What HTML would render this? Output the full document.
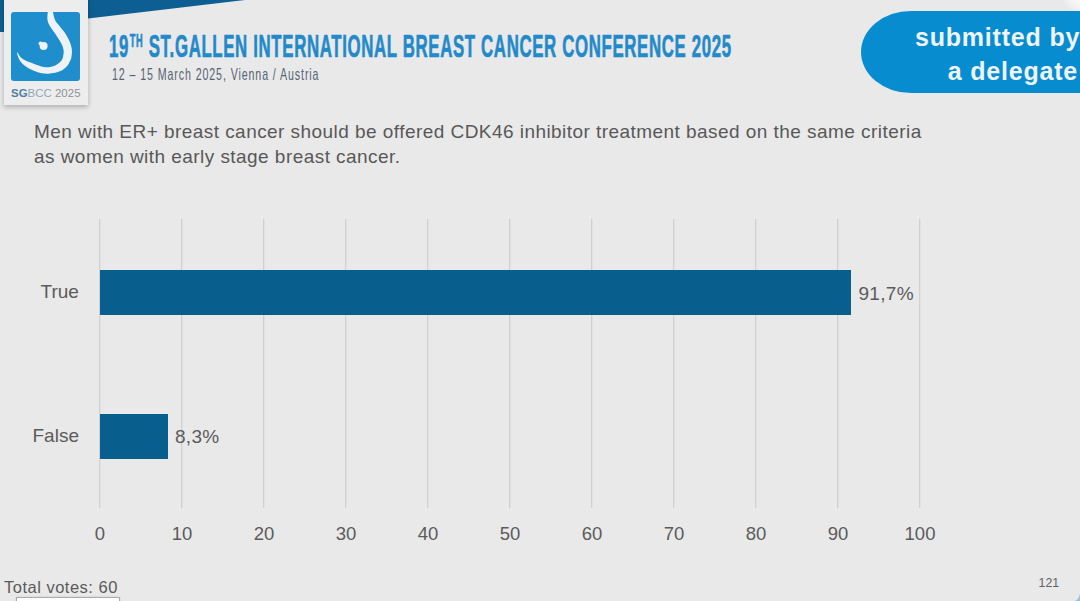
<!DOCTYPE html>
<html><head><meta charset="utf-8">
<style>
html,body{margin:0;padding:0;}
body{width:1080px;height:601px;overflow:hidden;position:relative;background:#e9e9e9;font-family:"Liberation Sans",sans-serif;}
.abs{position:absolute;}
.t{position:absolute;white-space:nowrap;line-height:1;}
.grid{position:absolute;top:219px;height:289px;width:1px;background:#d1d0d4;box-shadow:1px 0 0 #e1e0e3;}
.bar{position:absolute;background:#085e8c;}
.lbl{position:absolute;white-space:nowrap;line-height:1;color:#5b5b5b;font-size:19px;}
.ax{position:absolute;top:525px;width:60px;text-align:center;white-space:nowrap;line-height:1;color:#5b5b5b;font-size:18.5px;}
</style></head>
<body>
<!-- top dark band -->
<svg class="abs" style="left:0;top:0" width="1080" height="120">
  <polygon points="0,0 245,0 88,18.5 88,0" fill="#0d5f93"/>
  <rect x="0" y="0" width="4" height="32" fill="#0d5f93"/>
</svg>
<!-- logo box -->
<div class="abs" style="left:3.5px;top:-4px;width:84.5px;height:109px;background:#ededed;box-shadow:0 2px 5px rgba(0,0,0,0.26);"></div>
<div class="abs" style="left:11px;top:12px;width:69px;height:69px;background:#1e8ecd;border-radius:3px;"></div>
<svg class="abs" style="left:0;top:0" width="95" height="110">
  <path d="M52.9,11.6 C53.2,13.0 53.9,17.6 55.0,20.0 C56.1,22.4 58.0,24.0 59.5,26.0 C61.0,28.0 62.9,30.0 64.3,32.0 C65.7,34.0 66.9,36.0 67.9,38.0 C69.0,40.0 69.9,42.0 70.6,44.0 C71.3,46.0 71.7,48.0 71.9,50.0 C72.1,52.0 71.8,54.3 71.6,56.0 C71.4,57.7 71.3,58.4 70.6,60.0 C69.9,61.6 68.8,63.8 67.5,65.5 C66.2,67.2 64.2,68.9 62.5,70.0 C60.8,71.1 59.1,71.6 57.0,72.2 C54.9,72.8 52.2,73.3 50.0,73.5 C47.8,73.7 46.2,73.8 44.0,73.6 C41.8,73.3 39.2,72.7 37.0,72.0 C34.8,71.3 32.7,70.4 30.6,69.3 C28.5,68.2 26.2,66.8 24.5,65.5 C22.8,64.2 21.6,63.1 20.5,61.5 C19.4,59.9 18.3,57.5 17.8,56.0 C17.3,54.5 16.8,52.1 17.3,52.3 C17.8,52.5 19.4,56.0 20.7,57.3 C22.0,58.6 23.4,59.4 25.0,60.3 C26.6,61.2 28.6,61.8 30.6,62.6 C32.6,63.4 34.8,64.3 37.0,65.0 C39.2,65.7 41.8,66.7 44.0,67.0 C46.2,67.3 48.3,67.2 50.0,67.0 C51.7,66.8 52.7,66.5 54.0,66.0 C55.3,65.5 56.8,64.7 58.0,63.8 C59.2,62.9 60.6,61.8 61.5,60.5 C62.4,59.2 62.9,57.8 63.2,56.0 C63.6,54.2 63.9,52.0 63.6,50.0 C63.3,48.0 62.5,46.0 61.6,44.0 C60.7,42.0 59.3,40.0 58.0,38.0 C56.7,36.0 55.4,34.0 54.0,32.0 C52.6,30.0 51.0,28.0 49.9,26.0 C48.8,24.0 47.9,22.4 47.5,20.0 C47.1,17.6 47.8,13.0 47.8,11.6 Z" fill="#eef3f8"/>
  <circle cx="43.6" cy="46" r="4" fill="#eef3f8"/><circle cx="40.5" cy="43.5" r="2" fill="#eef3f8"/>
</svg>
<div class="t" style="left:11px;top:87.5px;font-size:11.4px;letter-spacing:0.05px;color:#8e9296;"><b style="color:#4f809f">SG</b><span style="color:#8ea8ba">BCC</span> 2025</div>

<!-- title -->
<div class="t" id="title" style="left:109px;top:29.6px;font-size:32px;font-weight:700;letter-spacing:1.25px;color:#2489c9;-webkit-text-stroke:0.7px #2489c9;transform-origin:0 0;transform:scaleX(0.525);">19<sup style="font-size:17.5px;vertical-align:0;position:relative;top:-9.3px;margin-left:1.5px;">TH</sup> ST.GALLEN INTERNATIONAL BREAST CANCER CONFERENCE 2025</div>
<div class="t" id="sub" style="left:112px;top:66px;font-size:16.5px;letter-spacing:1.4px;color:#556474;transform-origin:0 0;transform:scaleX(0.645);">12 – 15 March 2025, Vienna / Austria</div>

<!-- pill -->
<div class="abs" style="left:861px;top:11px;width:300px;height:82px;background:#078dcf;border-radius:50px 0 0 50px / 41px 0 0 41px;"></div>
<div class="t" style="left:915px;top:25px;width:163px;text-align:right;font-size:25px;font-weight:700;letter-spacing:0.8px;color:#eef4fa;">submitted by</div>
<div class="t" style="left:915px;top:59px;width:163px;text-align:right;font-size:25px;font-weight:700;letter-spacing:0.8px;color:#eef4fa;">a delegate</div>

<!-- question -->
<div class="t" id="q1" style="left:34px;top:122px;font-size:19px;color:#585858;letter-spacing:0.45px;">Men with ER+ breast cancer should be offered CDK46 inhibitor treatment based on the same criteria</div>
<div class="t" id="q2" style="left:34px;top:147px;font-size:19px;color:#585858;letter-spacing:0.45px;">as women with early stage breast cancer.</div>

<!-- chart -->
<div class="grid" style="left:99px"></div>
<div class="grid" style="left:181px"></div>
<div class="grid" style="left:263px"></div>
<div class="grid" style="left:345px"></div>
<div class="grid" style="left:427px"></div>
<div class="grid" style="left:509px"></div>
<div class="grid" style="left:591px"></div>
<div class="grid" style="left:673px"></div>
<div class="grid" style="left:755px"></div>
<div class="grid" style="left:837px"></div>
<div class="grid" style="left:919px"></div>

<div class="bar" style="left:100px;top:270px;width:751px;height:45px;"></div>
<div class="bar" style="left:100px;top:414px;width:68px;height:45px;"></div>

<div class="lbl" style="left:40.5px;top:282px;">True</div>
<div class="lbl" style="left:32.5px;top:426px;">False</div>
<div class="lbl" style="left:858.5px;top:284px;letter-spacing:0.3px;">91,7%</div>
<div class="lbl" style="left:175px;top:427px;letter-spacing:0.3px;">8,3%</div>

<div class="ax" style="left:70px">0</div>
<div class="ax" style="left:152px">10</div>
<div class="ax" style="left:234px">20</div>
<div class="ax" style="left:316px">30</div>
<div class="ax" style="left:398px">40</div>
<div class="ax" style="left:480px">50</div>
<div class="ax" style="left:562px">60</div>
<div class="ax" style="left:644px">70</div>
<div class="ax" style="left:726px">80</div>
<div class="ax" style="left:808px">90</div>
<div class="ax" style="left:890px">100</div>

<div class="t" style="left:4px;top:578.6px;font-size:16.5px;letter-spacing:0.5px;color:#5a5a5a;">Total votes: 60</div>
<div class="abs" style="left:15.5px;top:596.5px;width:102px;height:6px;background:#ffffff;border:1px solid #a9abad;box-shadow:0 0 2px rgba(0,0,0,0.15);"></div>
<div class="t" style="left:1038.6px;top:576.8px;font-size:12.3px;color:#626262;">121</div>
<svg class="abs" style="left:1070px;top:590px" width="10" height="11"><path d="M10,3 C9.5,7 8,9.5 5,11 L10,11Z" fill="#8fc4e4"/></svg>
<div class="abs" style="left:1064px;top:0;width:16px;height:11px;background:radial-gradient(ellipse at 100% 0%, #fafafa 0%, rgba(250,250,250,0.6) 45%, rgba(233,233,233,0) 80%);"></div>
</body></html>
